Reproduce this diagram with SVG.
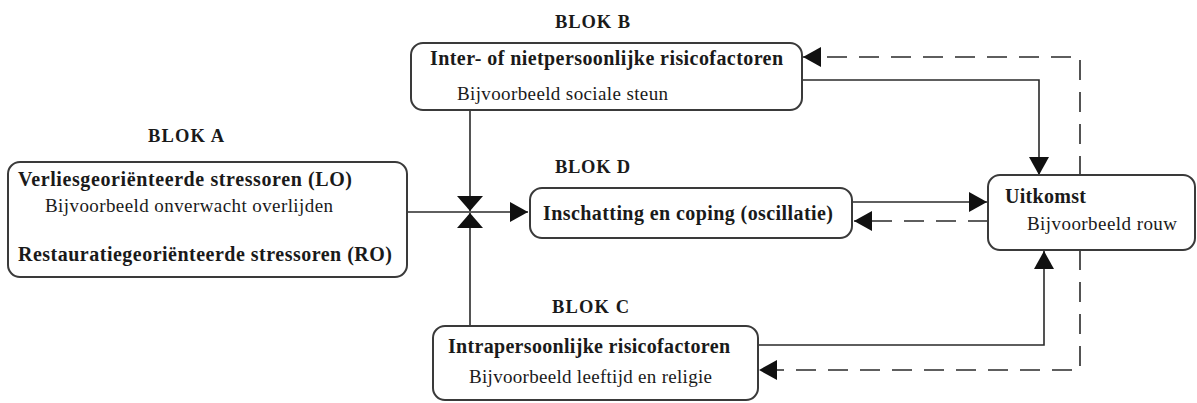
<svg xmlns="http://www.w3.org/2000/svg" width="1197" height="403" viewBox="0 0 1197 403">
<style>
text{font-family:"Liberation Serif","Times New Roman",serif;fill:#1a1a1a;font-size:19px}
.b{font-weight:bold;font-size:20px}
.h{font-weight:bold;font-size:18.5px}
.box{fill:#fff;stroke:#3a3a3a;stroke-width:2}
.ln{fill:none;stroke:#2a2a2a;stroke-width:1.6}
.ds{fill:none;stroke:#2a2a2a;stroke-width:1.6;stroke-dasharray:20 12}
</style>
<defs>
<marker id="ar" markerUnits="userSpaceOnUse" markerWidth="20" markerHeight="20" refX="18" refY="10" orient="auto" viewBox="0 0 20 20">
<path d="M0,0 L18,10 L0,20 Z" fill="#111"/>
</marker>
<marker id="wide" markerUnits="userSpaceOnUse" markerWidth="16" markerHeight="26" refX="15" refY="13" orient="auto" viewBox="0 0 16 26">
<path d="M0,0 L15,13 L0,26 Z" fill="#111"/>
</marker>
</defs>
<rect width="1197" height="403" fill="#fff"/>
<g id="connectors">
<path class="ln" d="M470,111 V211" marker-end="url(#wide)"/>
<path class="ln" d="M470,326 V213" marker-end="url(#wide)"/>
<path class="ln" d="M407,212 H528" marker-end="url(#ar)"/>
<path class="ln" d="M802,80 H1039 V175" marker-end="url(#ar)"/>
<path class="ln" d="M758,345 H1044 V251" marker-end="url(#ar)"/>
<path class="ln" d="M852,202 H987" marker-end="url(#ar)"/>
<path class="ds" d="M988,221 H854" marker-end="url(#ar)"/>
<path class="ds" d="M1080,176 V57 H803" marker-end="url(#ar)"/>
<path class="ds" d="M1080,250 V370 H759" marker-end="url(#ar)"/>
</g>
<g id="blokA">
<text class="h" x="148" y="142" textLength="76">BLOK A</text>
<rect class="box" x="8" y="162" width="399" height="115" rx="12"/>
<text class="b" x="18" y="186" textLength="334">Verliesgeoriënteerde stressoren (LO)</text>
<text x="45" y="212" textLength="288">Bijvoorbeeld onverwacht overlijden</text>
<text class="b" x="18" y="261" textLength="374">Restauratiegeoriënteerde stressoren (RO)</text>
</g>
<g id="blokB">
<text class="h" x="555" y="28" textLength="75">BLOK B</text>
<rect class="box" x="411" y="43" width="391" height="67" rx="12"/>
<text class="b" x="430" y="65" textLength="353">Inter- of nietpersoonlijke risicofactoren</text>
<text x="457" y="100" textLength="211">Bijvoorbeeld sociale steun</text>
</g>
<g id="blokD">
<text class="h" x="555" y="173" textLength="75">BLOK D</text>
<rect class="box" x="530" y="188" width="322" height="50" rx="12"/>
<text class="b" x="543" y="220" textLength="290">Inschatting en coping (oscillatie)</text>
</g>
<g id="uitkomst">
<rect class="box" x="988" y="175" width="207" height="75" rx="12"/>
<text class="b" x="1005" y="203" textLength="81">Uitkomst</text>
<text x="1027" y="230" textLength="150">Bijvoorbeeld rouw</text>
</g>
<g id="blokC">
<text class="h" x="552" y="313" textLength="77">BLOK C</text>
<rect class="box" x="433" y="326" width="325" height="74" rx="12"/>
<text class="b" x="448" y="353" textLength="282">Intrapersoonlijke risicofactoren</text>
<text x="469" y="383" textLength="243">Bijvoorbeeld leeftijd en religie</text>
</g>
</svg>
